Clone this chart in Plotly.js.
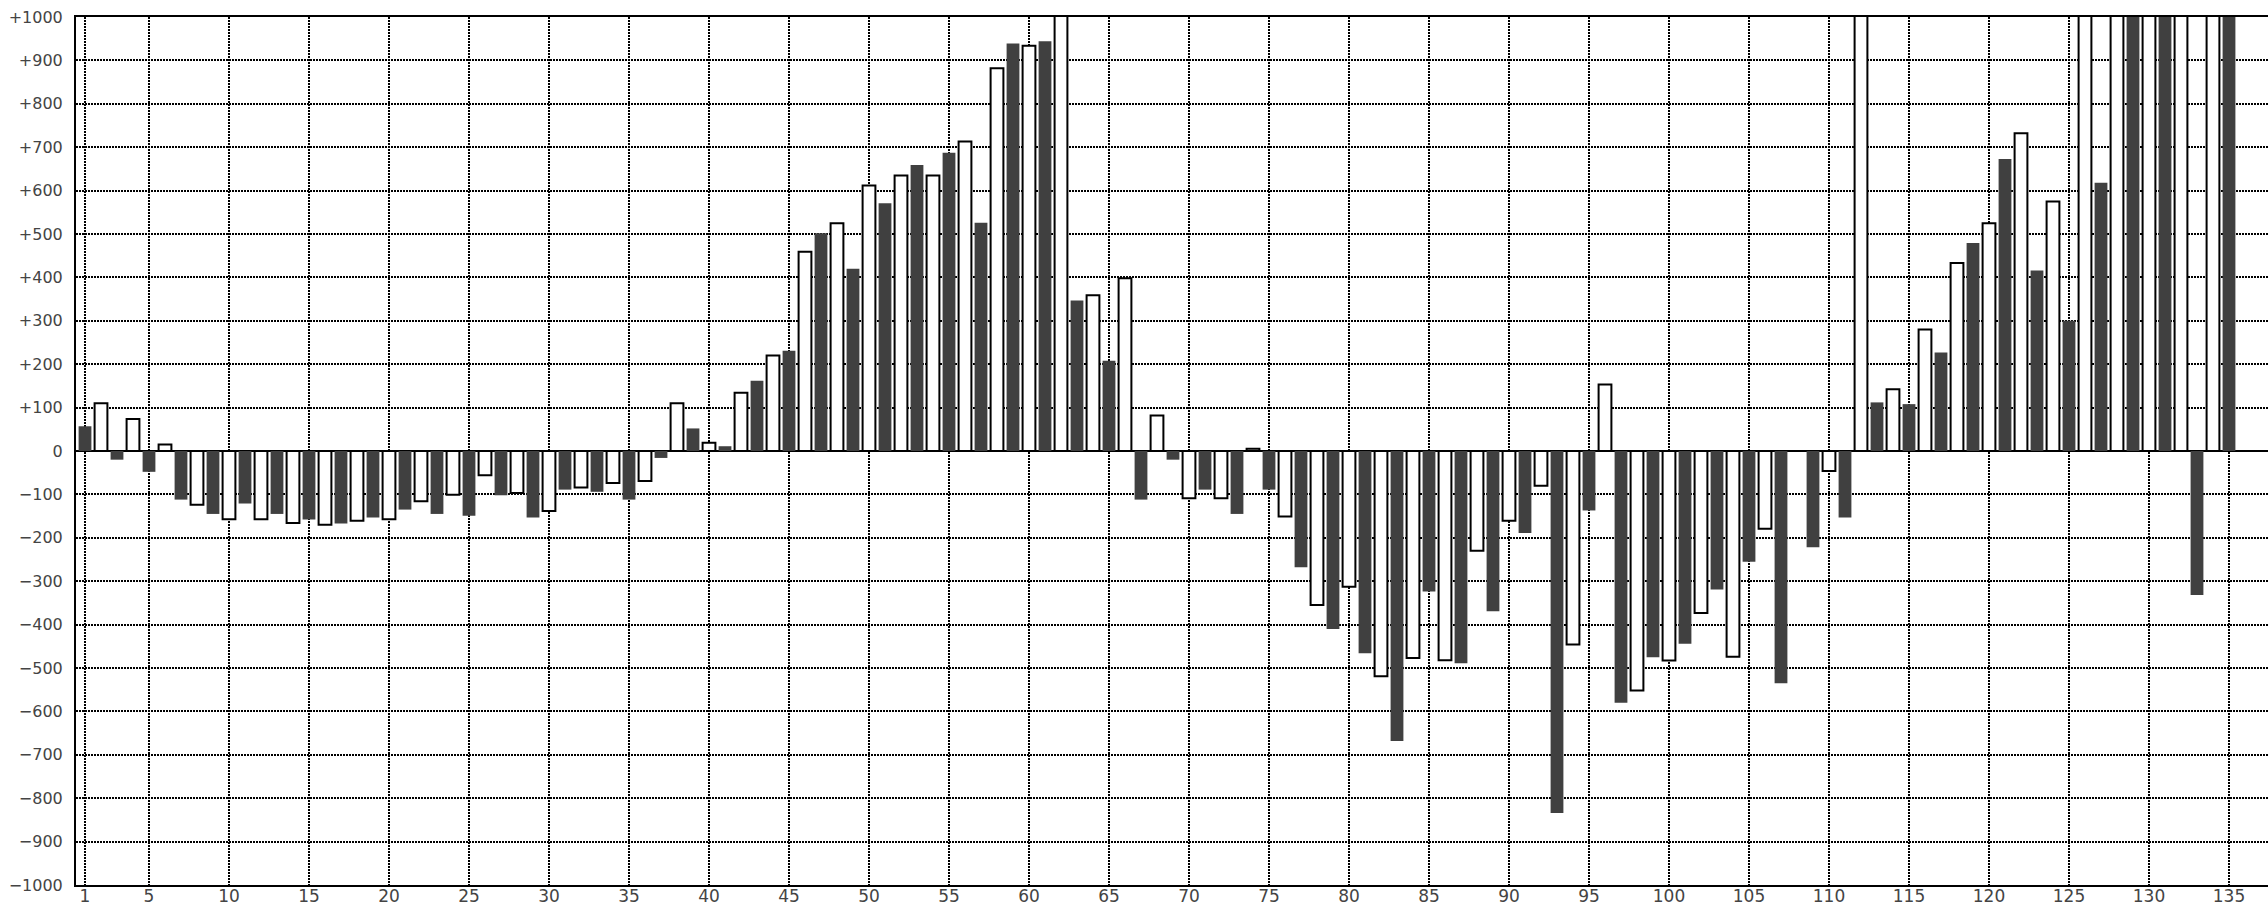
<!DOCTYPE html>
<html>
<head>
<meta charset="utf-8">
<script src="https://cdn.plot.ly/plotly-3.0.1.min.js"></script>
<style>
  html, body { margin: 0; padding: 0; background: #ffffff; }
  #chart { width: 2268px; height: 906px; }
</style>
</head>
<body>
<div id="chart"></div>
<script>
// Dark series: values at odd positions 1, 3, 5, ..., 135
const darkPositions = [1,3,5,7,9,11,13,15,17,19,21,23,25,27,29,31,33,35,37,39,41,43,45,47,49,51,53,55,57,59,61,63,65,67,69,71,73,75,77,79,81,83,85,87,89,91,93,95,97,99,101,103,105,107,109,111,113,115,117,119,121,123,125,127,129,131,133,135];
const darkValues = [57,-20,-48,-112,-145,-121,-145,-158,-167,-153,-135,-145,-149,-102,-153,-89,-94,-112,-16,52,11,162,231,502,420,571,659,687,526,939,944,347,208,-112,-20,-89,-145,-89,-268,-410,-466,-668,-324,-489,-369,-189,-834,-137,-580,-475,-444,-319,-255,-535,-222,-153,112,108,227,479,673,416,300,618,1200,1200,-332,1200];

// White (outlined) series: values at even positions 2, 4, ..., 136
const whitePositions = [2,4,6,8,10,12,14,16,18,20,22,24,26,28,30,32,34,36,38,40,42,44,46,48,50,52,54,56,58,60,62,64,66,68,70,72,74,76,78,80,82,84,86,88,90,92,94,96,98,100,102,104,106,108,110,112,114,116,118,120,122,124,126,128,130,132,134,136];
const whiteValues = [110,74,15,-124,-157,-157,-166,-170,-161,-157,-116,-101,-56,-97,-138,-84,-74,-69,110,19,134,220,459,525,612,635,635,713,882,934,1200,359,398,82,-109,-109,5,-151,-355,-313,-519,-477,-482,-230,-161,-80,-446,153,-552,-483,-373,-474,-179,null,-46,1200,142,280,433,525,732,575,1200,1200,1200,1200,1200,null];

// Axis ticks
const xTickVals = [1,5,10,15,20,25,30,35,40,45,50,55,60,65,70,75,80,85,90,95,100,105,110,115,120,125,130,135];
const yTickVals = [-1000,-900,-800,-700,-600,-500,-400,-300,-200,-100,0,100,200,300,400,500,600,700,800,900,1000];
const yTickText = ['\u22121000','\u2212900','\u2212800','\u2212700','\u2212600','\u2212500','\u2212400','\u2212300','\u2212200','\u2212100','0','+100','+200','+300','+400','+500','+600','+700','+800','+900','+1000'];

const xTickFont = { family: 'DejaVu Sans, sans-serif', size: 17, color: '#444444' };
const yTickFont = { family: 'DejaVu Sans, sans-serif', size: 16, color: '#444444' };

const traces = [
  {
    type: 'bar',
    x: darkPositions,
    y: darkValues,
    width: 0.8,
    marker: { color: '#404040', line: { width: 0 } },
    hoverinfo: 'x+y'
  },
  {
    type: 'bar',
    x: whitePositions,
    y: whiteValues,
    width: 0.8,
    marker: { color: '#ffffff', line: { color: '#000000', width: 2 } },
    hoverinfo: 'x+y'
  }
];

const layout = {
  width: 2268,
  height: 906,
  margin: { l: 76, r: 0, t: 17, b: 21, pad: 0 },
  paper_bgcolor: '#ffffff',
  plot_bgcolor: '#ffffff',
  showlegend: false,
  barmode: 'overlay',
  xaxis: {
    range: [0.4375, 137.4375],
    tickmode: 'array',
    tickvals: xTickVals,
    ticktext: xTickVals.map(String),
    tickfont: xTickFont,
    ticks: '',
    showgrid: true,
    gridcolor: '#000000',
    gridwidth: 2,
    griddash: '2px,1px',
    zeroline: false,
    showline: true,
    linecolor: '#000000',
    linewidth: 2,
    mirror: true,
    ticklabelstandoff: -5
  },
  yaxis: {
    range: [-1000, 1000],
    tickmode: 'array',
    tickvals: yTickVals,
    ticktext: yTickText,
    tickfont: yTickFont,
    ticks: '',
    showgrid: true,
    gridcolor: '#000000',
    gridwidth: 2,
    griddash: '2px,1px',
    zeroline: true,
    zerolinecolor: '#000000',
    zerolinewidth: 2,
    showline: true,
    linecolor: '#000000',
    linewidth: 2,
    mirror: false,
    ticklabelstandoff: 8
  }
};

Plotly.newPlot('chart', traces, layout, { displayModeBar: false, staticPlot: true });
</script>
</body>
</html>
